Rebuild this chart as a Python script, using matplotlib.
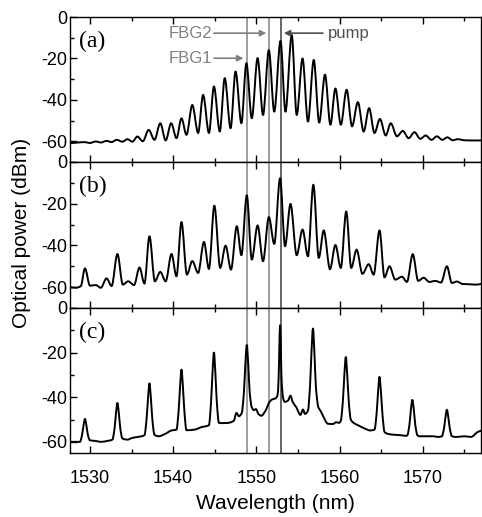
import matplotlib
matplotlib.use("Agg")
import matplotlib.pyplot as plt
from matplotlib.ticker import MultipleLocator
from matplotlib.path import Path
from matplotlib.patches import PathPatch

plt.rcParams['font.family'] = ['Liberation Sans', 'DejaVu Sans']
plt.rcParams['axes.unicode_minus'] = False

# ---------------- data ----------------
wl_a = [1527.6, 1528.3, 1529.3, 1530.0, 1530.7, 1531.3, 1532.0, 1532.6, 1533.2, 1533.9,
        1534.5, 1535.1, 1535.7, 1536.35, 1537.06, 1537.75, 1538.45, 1539.1, 1539.76, 1540.4,
        1541.0, 1541.6, 1542.3, 1543.0, 1543.6, 1544.3, 1544.9, 1545.6, 1546.2, 1546.9,
        1547.5, 1548.2, 1548.8, 1549.45, 1550.15, 1550.8, 1551.5, 1552.15, 1552.9, 1553.5,
        1554.25, 1554.85, 1555.55, 1556.2, 1556.9, 1557.55, 1558.25, 1558.9, 1559.5, 1560.15,
        1560.85, 1561.5, 1562.2, 1562.9, 1563.55, 1564.2, 1564.85, 1565.55, 1566.15, 1566.9,
        1567.6, 1568.3, 1569.0, 1569.7, 1570.35, 1571.05, 1571.7, 1572.35, 1572.95, 1573.6,
        1574.2, 1575.0, 1576.0, 1577.0]
pw_a = [-60.9, -60.7, -60.4, -60.8, -60.1, -60.6, -59.8, -60.4, -59.3, -60.2,
        -59.0, -60.2, -57.7, -60.0, -54.5, -59.3, -51.3, -59.6, -51.3, -58.5,
        -48.9, -56.9, -42.5, -56.0, -37.6, -56.0, -33.5, -55.3, -29.5, -53.7,
        -26.3, -51.3, -22.3, -48.9, -19.8, -47.3, -16.0, -45.7, -11.6, -45.7,
        -8.7, -47.3, -20.0, -50.5, -20.7, -51.0, -27.8, -52.0, -34.5, -52.0,
        -35.1, -52.8, -41.1, -55.3, -44.0, -56.0, -49.2, -57.2, -51.3, -57.6,
        -55.0, -58.5, -55.6, -58.8, -57.2, -59.3, -57.6, -59.3, -58.1, -59.5,
        -59.0, -59.5, -59.6, -59.6]

wl_b = [1527.6, 1528.3, 1528.9, 1529.4, 1530.0, 1530.7, 1531.3, 1532.0, 1532.6, 1533.3,
        1533.95, 1534.6, 1535.3, 1535.95, 1536.55, 1537.15, 1537.8, 1538.45, 1539.1, 1539.8,
        1540.4, 1541.0, 1541.65, 1542.3, 1543.0, 1543.7, 1544.3, 1544.95, 1545.65, 1546.3,
        1546.95, 1547.65, 1548.2, 1548.85, 1549.45, 1550.15, 1550.8, 1551.5, 1552.15, 1552.85,
        1553.45, 1554.1, 1554.85, 1555.55, 1556.2, 1556.85, 1557.5, 1558.1, 1558.85, 1559.5,
        1560.15, 1560.8, 1561.4, 1562.05, 1562.75, 1563.5, 1564.1, 1564.8, 1565.4, 1566.0,
        1566.7, 1567.5, 1568.1, 1568.8, 1569.45, 1570.1, 1570.8, 1571.5, 1572.2, 1572.9,
        1573.5, 1574.1, 1574.8, 1575.6, 1576.4, 1577.0]
pw_b = [-60.0, -60.3, -59.5, -51.0, -59.3, -59.0, -60.3, -55.8, -59.5, -44.1,
        -58.8, -57.2, -59.0, -50.6, -58.3, -35.6, -57.2, -52.7, -57.2, -44.1,
        -54.8, -28.8, -54.0, -47.5, -53.2, -38.3, -51.3, -20.9, -50.8, -40.1,
        -51.6, -30.8, -44.7, -16.0, -46.8, -30.4, -47.6, -26.4, -39.3, -7.8,
        -40.4, -20.1, -44.7, -32.4, -45.2, -10.9, -46.0, -32.8, -51.4, -39.8,
        -50.8, -23.7, -50.8, -42.0, -53.6, -49.0, -54.0, -32.8, -55.3, -50.0,
        -56.4, -55.0, -57.5, -44.2, -57.0, -55.5, -57.5, -57.0, -57.8, -50.0,
        -58.0, -57.3, -58.5, -58.6, -58.8, -58.5]

wl_c = [1527.6, 1528.8, 1529.05, 1529.22, 1529.4, 1529.58, 1529.75, 1530.0, 1530.7, 1531.3,
        1532.2, 1532.7, 1532.95, 1533.12, 1533.3, 1533.48, 1533.65, 1533.9, 1534.5, 1535.1,
        1536.2, 1536.55, 1536.8, 1536.97, 1537.15, 1537.33, 1537.5, 1537.75, 1538.25, 1539.0,
        1539.8, 1540.4, 1540.65, 1540.82, 1541.0, 1541.18, 1541.35, 1541.6, 1542.6, 1543.4,
        1544.3, 1544.55, 1544.72, 1544.9, 1545.08, 1545.25, 1545.5, 1546.0, 1546.6, 1547.3,
        1547.6, 1547.9, 1548.25, 1548.5, 1548.67, 1548.85, 1549.03, 1549.2, 1549.45, 1549.7,
        1549.95, 1550.25, 1550.6, 1551.1, 1551.6, 1551.9, 1552.3, 1552.55, 1552.68, 1552.76,
        1552.85, 1552.94, 1553.02, 1553.2, 1553.4, 1553.8, 1554.1, 1554.35, 1554.8, 1555.3,
        1555.6, 1555.85, 1556.2, 1556.45, 1556.62, 1556.8, 1556.98, 1557.15, 1557.45, 1557.7,
        1558.0, 1558.6, 1559.2, 1559.6, 1559.95, 1560.15, 1560.4, 1560.57, 1560.75, 1560.93,
        1561.1, 1561.35, 1561.7, 1562.3, 1563.0, 1563.7, 1564.2, 1564.45, 1564.62, 1564.8,
        1564.98, 1565.15, 1565.4, 1565.7, 1566.5, 1567.3, 1568.0, 1568.15, 1568.4, 1568.57,
        1568.75, 1568.93, 1569.1, 1569.35, 1569.6, 1570.5, 1571.3, 1571.8, 1572.3, 1572.55,
        1572.72, 1572.9, 1573.08, 1573.25, 1573.5, 1574.05, 1575.0, 1575.8, 1576.6, 1577.0]
pw_c = [-60.0, -60.0, -56.9, -52.8, -49.7, -52.8, -56.9, -59.3, -59.6, -60.0,
        -59.5, -59.0, -54.1, -47.5, -42.6, -47.5, -54.1, -58.5, -59.0, -58.2,
        -57.5, -57.0, -50.0, -40.8, -33.8, -40.8, -50.0, -56.8, -57.5, -56.5,
        -54.9, -54.5, -46.4, -35.7, -27.6, -35.7, -46.4, -54.8, -54.5, -53.4,
        -52.5, -42.4, -29.6, -20.0, -29.6, -42.4, -51.5, -51.6, -51.5, -50.5,
        -47.0, -48.5, -47.0, -37.9, -25.7, -16.6, -25.7, -37.9, -44.5, -45.8,
        -45.3, -47.5, -48.3, -46.0, -42.0, -41.0, -40.5, -39.0, -31.0, -17.8,
        -7.8, -17.8, -31.0, -40.0, -42.1, -41.5, -39.3, -42.0, -44.5, -47.9,
        -45.5, -47.5, -46.0, -35.0, -20.2, -9.2, -20.2, -35.0, -44.5, -46.0,
        -48.3, -51.9, -52.0, -51.2, -51.5, -50.5, -41.6, -30.4, -22.0, -30.4,
        -41.6, -50.0, -51.5, -52.7, -54.0, -54.9, -54.5, -47.4, -38.0, -30.9,
        -38.0, -47.4, -55.5, -56.3, -56.8, -57.0, -57.3, -57.0, -52.3, -45.7,
        -41.2, -45.7, -52.3, -57.0, -57.5, -57.5, -57.5, -57.8, -57.5, -54.0,
        -49.2, -45.6, -49.2, -54.0, -57.5, -57.8, -57.5, -57.8, -55.6, -55.0]

fbg1_wl = 1548.93
fbg2_wl = 1551.55
pump_wl = 1552.95

panel_labels = ["(a)", "(b)", "(c)"]
y_limits = [(-70, 0), (-70, 0), (-65, 0)]
x_limits = (1527.6, 1577.0)


def smooth_trace(ax, x, y, **kw):
    """Draw the traced points as a smooth (monotone cubic Bezier) curve."""
    n = len(x)
    h = [x[i + 1] - x[i] for i in range(n - 1)]
    d = [(y[i + 1] - y[i]) / h[i] for i in range(n - 1)]
    m = [0.0] * n
    m[0], m[-1] = d[0], d[-1]
    for i in range(1, n - 1):
        if d[i - 1] * d[i] <= 0:
            m[i] = 0.0
        else:
            w1 = 2 * h[i] + h[i - 1]
            w2 = h[i] + 2 * h[i - 1]
            m[i] = (w1 + w2) / (w1 / d[i - 1] + w2 / d[i])
    verts = [(x[0], y[0])]
    codes = [Path.MOVETO]
    for i in range(n - 1):
        verts += [(x[i] + h[i] / 3, y[i] + m[i] * h[i] / 3),
                  (x[i + 1] - h[i] / 3, y[i + 1] - m[i + 1] * h[i] / 3),
                  (x[i + 1], y[i + 1])]
        codes += [Path.CURVE4] * 3
    ax.add_patch(PathPatch(Path(verts, codes), fill=False, **kw))


# ---------------- figure ----------------
fig = plt.figure(figsize=(4.82, 5.17), dpi=100)
left, right = 70 / 482, 481 / 482
tops = [17, 162, 308]
bots = [162, 308, 453]
H = 517
axes = []
for t, b in zip(tops, bots):
    ax = fig.add_axes([left, 1 - b / H, right - left, (b - t) / H])
    axes.append(ax)

series = [(wl_a, pw_a), (wl_b, pw_b), (wl_c, pw_c)]
for i, ax in enumerate(axes):
    wl, pw = series[i]
    ax.axvline(fbg1_wl, color='#8c8c8c', lw=1.2, zorder=1)
    ax.axvline(fbg2_wl, color='#8c8c8c', lw=1.2, zorder=1)
    ax.axvline(pump_wl, color='#4a4a4a', lw=1.2, zorder=1)
    smooth_trace(ax, wl, pw, edgecolor='black', lw=1.4, zorder=3,
                 joinstyle='round', capstyle='round')
    ax.set_xlim(*x_limits)
    ax.set_ylim(*y_limits[i])
    ax.xaxis.set_major_locator(MultipleLocator(10))
    ax.xaxis.set_minor_locator(MultipleLocator(5))
    ax.yaxis.set_major_locator(MultipleLocator(20))
    ax.yaxis.set_minor_locator(MultipleLocator(10))
    ax.tick_params(which='both', direction='in', top=True, right=False,
                   labelsize=13, pad=2, width=1)
    ax.tick_params(axis='x', pad=12)
    ax.tick_params(which='major', length=5)
    ax.tick_params(which='minor', length=3)
    for s in ax.spines.values():
        s.set_linewidth(1)
    if i < 2:
        ax.tick_params(labelbottom=False)
    ax.text(0.022, 0.83, panel_labels[i], transform=ax.transAxes,
            fontsize=17, family=['Liberation Serif', 'DejaVu Serif'],
            ha='left', va='center')

axes[2].set_xlabel("Wavelength (nm)", fontsize=15, labelpad=5)
fig.text(0.045, 0.549, "Optical power (dBm)", rotation=90, fontsize=15,
         ha='center', va='center')

# annotations in panel (a)
ax = axes[0]
gray = '#808080'
ax.annotate("", xy=(1551.2, -7.8), xytext=(1544.9, -7.8),
            arrowprops=dict(arrowstyle='-|>', color=gray, lw=1.2,
                            mutation_scale=9, shrinkA=0, shrinkB=0))
ax.text(1544.7, -7.8, "FBG2", color=gray, fontsize=12, ha='right', va='center')
ax.annotate("", xy=(1548.45, -19.9), xytext=(1544.9, -19.9),
            arrowprops=dict(arrowstyle='-|>', color=gray, lw=1.2,
                            mutation_scale=9, shrinkA=0, shrinkB=0))
ax.text(1544.7, -19.9, "FBG1", color=gray, fontsize=12, ha='right', va='center')
ax.annotate("", xy=(1553.3, -7.8), xytext=(1558.0, -7.8),
            arrowprops=dict(arrowstyle='-|>', color='#505050', lw=1.2,
                            mutation_scale=9, shrinkA=0, shrinkB=0))
ax.text(1558.6, -7.8, "pump", color='#505050', fontsize=12, ha='left', va='center')

fig.savefig("out.png", dpi=100)
